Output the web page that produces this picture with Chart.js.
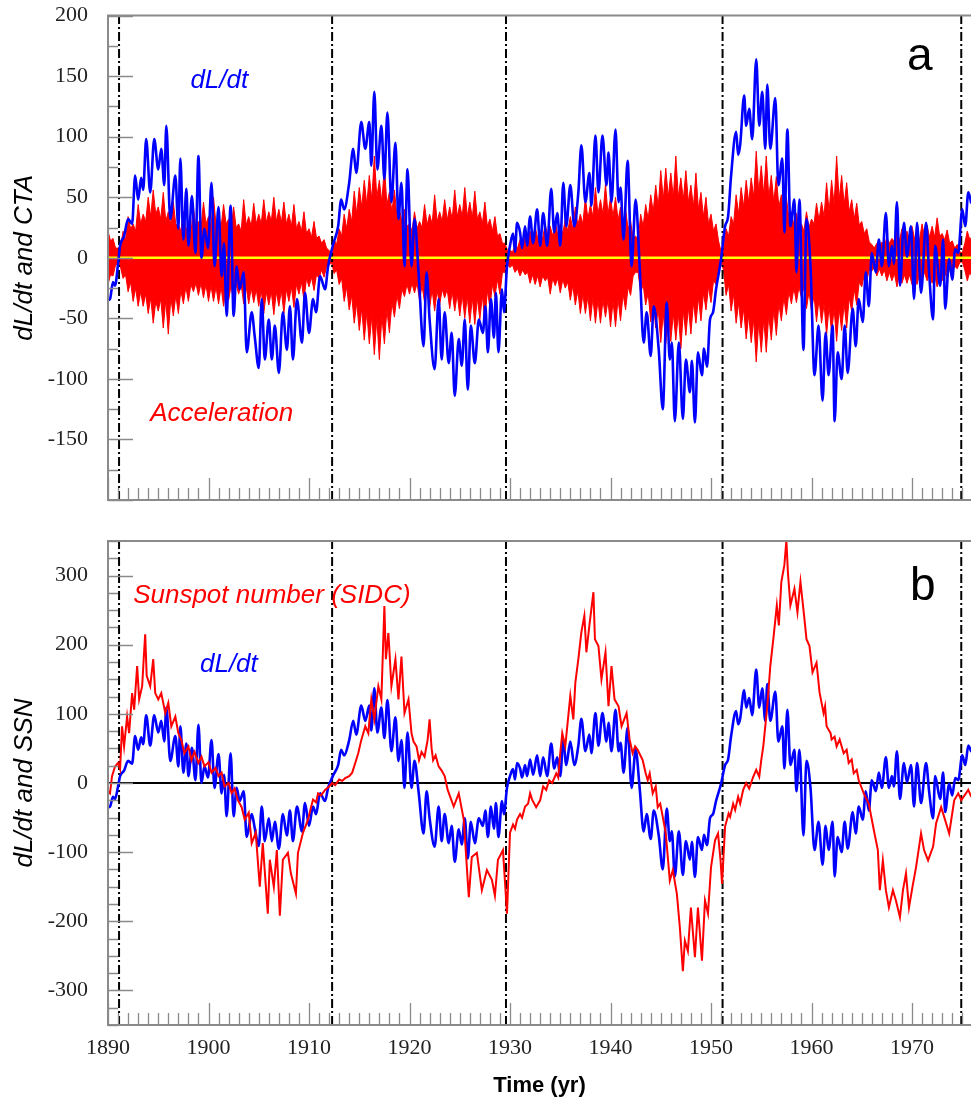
<!DOCTYPE html>
<html>
<head>
<meta charset="utf-8">
<title>dL/dt, CTA and SSN</title>
<script src="https://cdn.jsdelivr.net/npm/chart.js@4.4.1/dist/chart.umd.min.js"></script>
<style>
  html, body { margin: 0; padding: 0; background: #fff; }
  body { width: 971px; height: 1106px; overflow: hidden; position: relative; }
  .panel { position: absolute; left: 0; }
  #wrapA { top: 0; }
  #wrapB { top: 520px; }
</style>
</head>
<body>
<div class="panel" id="wrapA"><canvas id="chartA" width="971" height="520"></canvas></div>
<div class="panel" id="wrapB"><canvas id="chartB" width="971" height="586"></canvas></div>
<script>
// ---- data ----
const xMin = 1890, xMax = 1975.87;
const xTickYears = [1890, 1900, 1910, 1920, 1930, 1940, 1950, 1960, 1970];
const yTicksA = [-150, -100, -50, 0, 50, 100, 150, 200];
const yTicksB = [-300, -200, -100, 0, 100, 200, 300];

// dash-dot vertical markers (years)
const markerYears = [1891.1, 1912.3, 1929.6, 1951.15, 1974.9];

// dL/dt, [year, value]
const dldtPoints = [
  [1890.0,-35],[1890.2,-34],[1890.5,-20],[1890.7,-23],[1891.0,-5],[1891.2,10],[1891.6,18],[1892.0,32],[1892.4,28],[1892.7,68],
  [1893.0,48],[1893.3,66],[1893.5,56],[1893.8,98],[1894.2,54],[1894.6,98],[1895.0,73],[1895.3,90],[1895.6,60],[1895.8,109],
  [1896.2,32],[1896.7,68],[1897.0,24],[1897.2,82],[1897.5,15],[1897.8,57],[1898.0,10],[1898.35,51],[1898.7,4],[1899.0,84],
  [1899.3,0],[1899.6,24],[1899.95,8],[1900.3,62],[1900.6,-7],[1901.0,42],[1901.3,-15],[1901.55,12],[1901.8,-48],[1902.2,43],
  [1902.5,-48],[1902.8,-7],[1903.1,-26],[1903.5,-12],[1903.8,-78],[1904.3,-45],[1904.6,-65],[1905.0,-91],[1905.3,-34],[1905.6,-84],
  [1906.0,-51],[1906.3,-84],[1906.6,-56],[1907.0,-95],[1907.4,-45],[1907.8,-76],[1908.1,-40],[1908.4,-84],[1908.8,-34],[1909.3,-70],
  [1909.6,-29],[1910.0,-62],[1910.4,-34],[1910.7,-45],[1911.1,-15],[1911.6,-26],[1911.9,-7],[1912.4,11],[1912.9,26],[1913.2,48],
  [1913.5,40],[1914.0,62],[1914.4,90],[1914.7,70],[1915.2,112],[1915.6,90],[1916.0,112],[1916.2,76],[1916.5,137],[1916.8,73],
  [1917.2,109],[1917.5,65],[1917.8,120],[1918.2,46],[1918.6,95],[1918.9,32],[1919.2,62],[1919.5,-7],[1919.8,73],[1920.2,-7],
  [1920.5,32],[1920.9,-12],[1921.4,-73],[1921.7,-12],[1922.0,-51],[1922.5,-92],[1922.9,-34],[1923.2,-84],[1923.5,-45],[1923.9,-87],
  [1924.2,-62],[1924.5,-114],[1924.9,-67],[1925.2,-89],[1925.5,-51],[1925.8,-109],[1926.1,-56],[1926.5,-87],[1926.9,-51],[1927.3,-62],
  [1927.55,-40],[1927.8,-78],[1928.1,-34],[1928.4,-66],[1928.6,-29],[1928.85,-78],[1929.2,-26],[1929.4,-45],[1929.7,-7],[1930.0,10],
  [1930.3,20],[1930.5,5],[1930.7,29],[1931.0,21],[1931.2,8],[1931.5,26],[1931.7,10],[1932.0,34],[1932.3,12],[1932.7,40],
  [1933.0,10],[1933.3,37],[1933.7,10],[1934.1,57],[1934.4,21],[1934.7,37],[1935.0,10],[1935.3,62],[1935.6,26],[1936.0,60],
  [1936.4,26],[1936.8,54],[1937.1,93],[1937.5,46],[1937.9,70],[1938.1,43],[1938.5,101],[1938.8,54],[1939.2,101],[1939.6,60],
  [1939.8,87],[1940.1,46],[1940.5,106],[1940.8,46],[1941.0,58],[1941.3,15],[1941.7,80],[1942.1,-7],[1942.5,48],[1942.9,-7],
  [1943.3,-70],[1943.6,-45],[1944.0,-81],[1944.3,-40],[1944.8,-76],[1945.2,-125],[1945.6,-37],[1945.9,-84],[1946.1,-70],[1946.4,-135],
  [1946.8,-70],[1947.2,-133],[1947.5,-84],[1947.9,-111],[1948.1,-85],[1948.4,-136],[1948.7,-78],[1949.1,-97],[1949.3,-75],[1949.6,-90],
  [1949.9,-51],[1950.2,-45],[1950.5,-26],[1951.0,-1],[1951.4,26],[1951.7,34],[1952.0,68],[1952.5,104],[1952.7,85],[1952.9,93],
  [1953.3,134],[1953.5,109],[1953.8,123],[1954.1,98],[1954.5,164],[1954.8,109],[1955.1,137],[1955.4,90],[1955.6,143],[1955.9,90],
  [1956.4,132],[1956.7,60],[1957.1,82],[1957.3,21],[1957.6,106],[1957.9,26],[1958.3,48],[1958.5,-12],[1958.8,48],[1959.2,-76],
  [1959.5,32],[1959.9,-7],[1960.3,-97],[1960.7,-56],[1961.1,-118],[1961.4,-62],[1961.7,-97],[1962.1,-56],[1962.3,-135],[1962.6,-78],
  [1963.0,-100],[1963.3,-56],[1963.6,-95],[1964.1,-42],[1964.4,-73],[1964.7,-34],[1965.1,-53],[1965.4,-12],[1965.7,-40],[1966.0,4],
  [1966.4,-12],[1966.7,15],[1967.0,-7],[1967.4,37],[1967.7,-7],[1968.0,10],[1968.2,-5],[1968.5,46],[1968.8,-23],[1969.2,29],
  [1969.5,1],[1969.9,26],[1970.2,-34],[1970.5,29],[1970.9,-29],[1971.4,29],[1971.7,-12],[1972.1,-51],[1972.3,10],[1972.8,-23],
  [1973.1,15],[1973.3,-42],[1973.7,-1],[1974.0,-18],[1974.3,7],[1974.6,4],[1975.0,40],[1975.3,26],[1975.6,54],[1975.9,45]
];

// acceleration (CTA): upper and lower edge of the red band, every quarter year from 1890.0
const accStartYear = 1890, accStep = 0.25;
const accUpper = [
  22,14, 16,8, 8,9, 22,15, 34,24, 28,22, 44,28, 36,30, 50,34, 56,36,
  42,32, 54,30, 38,28, 46,27, 28,22, 38,24, 26,20, 42,24, 30,24, 46,28,
  34,26, 50,27, 36,25, 44,28, 32,24, 42,25, 28,22, 48,27, 34,26, 45,28,
  36,28, 48,29, 38,30, 50,30, 40,29, 46,28, 36,26, 44,24, 30,22, 38,20,
  24,17, 30,16, 18,12, 15,8, 6,4, 15,11, 24,18, 36,24, 40,30, 55,36,
  58,42, 64,44, 68,48, 84,50, 64,46, 76,44, 54,38, 56,34, 40,30, 40,26,
  28,22, 38,24, 30,25, 44,27, 36,28, 52,30, 38,30, 48,31, 42,32, 56,34,
  44,34, 58,34, 46,33, 55,32, 38,28, 46,26, 32,22, 34,18, 20,12, 12,6,
  6,5, 10,8, 15,10, 17,12, 22,14, 26,16, 19,16, 28,18, 26,18, 30,19,
  28,20, 32,22, 34,24, 42,27, 36,28, 50,32, 44,34, 58,36, 48,36, 61,36,
  50,34, 50,31, 42,28, 40,24, 30,16, 18,14, 36,26, 44,32, 52,38, 60,42,
  72,48, 74,50, 70,50, 84,50, 66,48, 72,46, 60,42, 70,40, 54,34, 50,28,
  36,22, 28,14, 5,8, 24,18, 34,28, 52,36, 58,42, 64,46, 66,50, 88,54,
  76,52, 84,50, 68,46, 67,42, 52,36, 50,32, 38,27, 37,24, 28,22, 38,25,
  32,28, 45,31, 46,34, 62,38, 64,44, 84,48, 68,44, 62,38, 48,32, 45,27,
  30,20, 24,13, 11,8, 12,9, 13,10, 17,12, 16,13, 24,14, 24,15, 22,14,
  26,16, 20,15, 28,17, 27,17, 26,17, 33,18, 20,15, 23,12, 14,8, 11,5,
  4,12, 22,15, 18
];
const accLower = [
  -22,-14, -15,-6, -5,-8, -17,-14, -28,-20, -36,-25, -40,-28, -40,-30, -46,-33, -54,-36,
  -44,-34, -58,-35, -63,-33, -48,-31, -46,-27, -38,-24, -36,-22, -28,-21, -31,-21, -33,-22,
  -36,-23, -36,-24, -38,-24, -40,-24, -35,-23, -37,-22, -30,-22, -38,-24, -38,-25, -37,-26,
  -40,-27, -46,-28, -39,-28, -47,-28, -40,-27, -46,-26, -36,-24, -41,-22, -30,-20, -35,-17,
  -24,-16, -27,-14, -17,-10, -16,-7, -6,-4, -13,-10, -22,-17, -36,-24, -43,-31, -54,-37,
  -60,-42, -68,-45, -71,-48, -80,-50, -84,-48, -71,-43, -62,-37, -49,-31, -42,-26, -32,-22,
  -30,-21, -29,-21, -35,-23, -37,-25, -42,-26, -44,-27, -39,-26, -33,-26, -42,-28, -44,-30,
  -48,-31, -50,-32, -54,-33, -55,-33, -51,-31, -53,-27, -41,-22, -32,-18, -30,-12, -12,-6,
  -8,-6, -12,-9, -15,-10, -14,-12, -21,-14, -22,-15, -24,-15, -19,-16, -30,-17, -23,-17,
  -29,-18, -25,-20, -35,-23, -39,-27, -46,-30, -46,-32, -52,-33, -54,-35, -54,-35, -49,-35,
  -57,-36, -57,-34, -52,-30, -43,-24, -31,-15, -12,-12, -29,-22, -39,-29, -53,-36, -58,-42,
  -70,-46, -71,-47, -69,-46, -68,-46, -75,-44, -64,-41, -63,-37, -54,-33, -52,-29, -43,-24,
  -37,-19, -22,-11, -4,-10, -31,-22, -44,-30, -54,-37, -58,-42, -67,-47, -70,-51, -86,-53,
  -78,-51, -78,-47, -68,-43, -64,-38, -52,-33, -47,-28, -38,-25, -37,-24, -33,-24, -42,-28,
  -44,-31, -53,-34, -54,-38, -64,-40, -62,-42, -69,-42, -60,-38, -58,-33, -44,-26, -39,-20,
  -24,-14, -19,-10, -11,-8, -15,-9, -15,-10, -19,-12, -19,-13, -24,-14, -21,-14, -21,-14,
  -22,-14, -22,-13, -18,-12, -19,-13, -21,-14, -24,-13, -19,-12, -17,-9, -11,-7, -9,-4,
  -3,-10, -19,-12, -16
];

// signed sunspot number (SIDC), [year, value]
const ssnPoints = [
  [1890.0,-12],[1890.2,-15],[1890.4,10],[1890.7,24],[1891.0,29],[1891.2,20],[1891.4,82],[1891.6,53],[1891.9,96],[1892.1,72],
  [1892.4,130],[1892.6,106],[1892.9,169],[1893.1,121],[1893.4,140],[1893.55,179],[1893.7,215],[1893.85,155],[1894.2,140],[1894.5,179],
  [1894.7,130],[1895.0,121],[1895.3,130],[1895.7,101],[1896.0,116],[1896.3,82],[1896.7,96],[1897.0,72],[1897.3,62],[1897.6,43],
  [1898.0,53],[1898.3,33],[1898.6,45],[1899.0,29],[1899.3,38],[1899.6,24],[1900.0,30],[1900.3,15],[1900.7,22],[1901.0,10],
  [1901.3,15],[1901.6,-5],[1902.0,0],[1902.3,-15],[1902.6,-8],[1902.9,-24],[1903.3,-35],[1903.6,-53],[1904.0,-43],[1904.3,-87],
  [1904.7,-72],[1905.1,-150],[1905.4,-87],[1905.9,-189],[1906.1,-111],[1906.5,-150],[1906.8,-97],[1907.1,-192],[1907.4,-111],[1907.9,-101],
  [1908.2,-131],[1908.7,-160],[1908.9,-101],[1909.4,-72],[1909.9,-53],[1910.2,-35],[1910.4,-24],[1910.7,-28],[1910.9,-15],[1911.2,-18],
  [1911.6,-10],[1912.0,-5],[1912.3,0],[1912.6,-3],[1913.0,5],[1913.3,3],[1913.6,7],[1914.0,10],[1914.3,15],[1914.6,29],
  [1914.9,43],[1915.2,62],[1915.6,82],[1915.9,72],[1916.2,121],[1916.5,92],[1916.9,140],[1917.2,121],[1917.5,256],[1917.65,179],
  [1917.9,217],[1918.2,140],[1918.6,179],[1918.9,121],[1919.2,183],[1919.5,101],[1919.9,121],[1920.2,72],[1920.4,60],[1920.7,53],
  [1920.95,33],[1921.2,45],[1921.5,38],[1921.8,62],[1922.0,92],[1922.2,50],[1922.35,33],[1922.6,40],[1922.9,24],[1923.2,18],
  [1923.5,10],[1923.8,-10],[1924.4,-34],[1924.9,-15],[1925.4,-53],[1925.9,-165],[1926.2,-107],[1926.7,-101],[1927.2,-155],[1927.7,-126],
  [1928.2,-140],[1928.5,-163],[1928.8,-111],[1929.3,-97],[1929.7,-189],[1930.0,-72],[1930.3,-60],[1930.5,-66],[1930.7,-53],[1931.0,-45],
  [1931.2,-50],[1931.5,-34],[1931.8,-30],[1932.0,-15],[1932.2,-24],[1932.6,-35],[1933.0,-25],[1933.3,-5],[1933.6,-10],[1933.9,4],
  [1934.2,0],[1934.6,14],[1934.8,8],[1935.0,43],[1935.2,72],[1935.5,53],[1936.0,126],[1936.3,92],[1936.5,145],[1936.8,179],
  [1937.1,218],[1937.4,242],[1937.6,189],[1937.9,228],[1938.3,276],[1938.45,208],[1938.8,198],[1939.1,150],[1939.5,189],[1939.8,111],
  [1940.1,169],[1940.4,121],[1940.8,111],[1941.1,82],[1941.6,101],[1941.9,63],[1942.2,43],[1942.45,53],[1942.7,48],[1943.0,39],
  [1943.2,33],[1943.5,14],[1943.7,4],[1943.9,14],[1944.2,-15],[1944.5,-5],[1944.7,-35],[1944.95,-30],[1945.2,-49],[1945.5,-73],
  [1945.9,-141],[1946.2,-126],[1946.6,-160],[1946.9,-209],[1947.2,-272],[1947.4,-228],[1947.7,-243],[1948.0,-180],[1948.4,-252],[1948.7,-180],
  [1949.1,-257],[1949.4,-170],[1949.7,-189],[1950.0,-122],[1950.4,-83],[1950.7,-73],[1950.95,-112],[1951.1,-146],[1951.4,-63],[1951.75,-44],
  [1951.9,-49],[1952.2,-30],[1952.4,-39],[1952.7,-20],[1952.9,-30],[1953.2,-10],[1953.5,0],[1953.8,-8],[1954.2,9],[1954.5,19],
  [1954.8,9],[1955.0,33],[1955.2,53],[1955.4,82],[1955.6,111],[1955.9,169],[1956.2,208],[1956.55,257],[1956.75,228],[1957.0,291],
  [1957.3,315],[1957.5,351],[1957.65,305],[1957.9,257],[1958.3,281],[1958.6,247],[1958.9,291],[1959.3,237],[1959.5,208],[1959.8,198],
  [1960.1,160],[1960.5,174],[1960.8,131],[1961.2,101],[1961.35,111],[1961.5,82],[1961.9,72],[1962.0,63],[1962.3,67],[1962.5,53],
  [1962.8,63],[1963.2,43],[1963.5,48],[1963.7,29],[1964.0,34],[1964.2,14],[1964.5,19],[1964.7,4],[1965.2,-15],[1965.7,-30],
  [1966.2,-68],[1966.6,-97],[1966.8,-155],[1967.1,-112],[1967.4,-155],[1967.7,-180],[1968.1,-155],[1968.4,-170],[1968.8,-194],[1969.1,-155],
  [1969.4,-131],[1969.7,-180],[1970.1,-146],[1970.4,-122],[1970.9,-73],[1971.2,-97],[1971.6,-112],[1972.1,-92],[1972.4,-58],[1972.9,-35],
  [1973.2,-49],[1973.7,-73],[1974.2,-25],[1974.6,-15],[1974.9,-25],[1975.6,-10],[1975.9,-20]
];

// ---- helpers ----
const toXY = pts => pts.map(p => ({ x: p[0], y: p[1] }));
const accXY = vals => vals.map((v, i) => ({ x: accStartYear + i * accStep, y: v }));
const SANS = '"Liberation Sans", Arial, sans-serif';
const SERIF = '"Liberation Serif", "Times New Roman", serif';

Chart.defaults.font.family = SANS;
Chart.defaults.color = '#222';

function markerSets(lo, hi, order) {
  return markerYears.map(t => ({
    data: [{ x: t, y: lo }, { x: t, y: hi }],
    borderColor: '#000',
    borderWidth: 2,
    borderDash: [9, 3, 2, 3],
    order: order
  }));
}

// inward tick marks and the grey frame (the right edge runs off the page)
const frameTicks = {
  id: 'frameTicks',
  afterDatasetsDraw(chart, args, opts) {
    const { ctx, chartArea: a } = chart;
    const x = chart.scales.x, y = chart.scales.y;
    ctx.save();
    ctx.strokeStyle = '#8a8a8a';
    ctx.lineWidth = 1.3;
    ctx.beginPath();
    for (let v = y.min; v <= y.max + 1e-6; v += opts.yMinor) {
      const py = Math.round(y.getPixelForValue(v)) + 0.5;
      const len = Math.abs(v % opts.yMajor) < 1e-6 ? 25 : 10;
      ctx.moveTo(a.left, py);
      ctx.lineTo(a.left + len, py);
    }
    for (let t = Math.ceil(x.min); t <= x.max; t++) {
      const px = Math.round(x.getPixelForValue(t)) + 0.5;
      const len = t % 10 === 0 ? 22 : 12;
      ctx.moveTo(px, a.bottom);
      ctx.lineTo(px, a.bottom - len);
    }
    ctx.stroke();
    ctx.lineWidth = 2;
    ctx.beginPath();
    ctx.moveTo(a.right + 5, a.top);
    ctx.lineTo(a.left, a.top);
    ctx.lineTo(a.left, a.bottom);
    ctx.lineTo(a.right + 5, a.bottom);
    ctx.stroke();
    ctx.restore();
  }
};

// in-plot labels, placed in data coordinates
const panelText = {
  id: 'panelText',
  afterDraw(chart, args, opts) {
    const { ctx } = chart;
    const x = chart.scales.x, y = chart.scales.y;
    ctx.save();
    ctx.textAlign = 'left';
    ctx.textBaseline = 'alphabetic';
    opts.items.forEach(it => {
      ctx.font = it.font;
      ctx.fillStyle = it.color;
      ctx.fillText(it.text, x.getPixelForValue(it.at[0]), y.getPixelForValue(it.at[1]));
    });
    ctx.restore();
  }
};

function yAxis(min, max, ticks, title) {
  return {
    type: 'linear',
    min: min,
    max: max,
    afterBuildTicks: axis => { axis.ticks = ticks.map(v => ({ value: v })); },
    afterFit: axis => {
      axis.width = 108;
      // labels may overhang the plot box, don't let them push it
      axis.paddingTop = 0;
      axis.paddingBottom = 0;
    },
    ticks: {
      font: { family: SERIF, size: 22 },
      color: '#222',
      padding: 20,
      callback: v => String(v)
    },
    grid: { drawOnChartArea: false, drawTicks: false },
    border: { display: false },
    title: {
      display: true,
      text: title,
      color: '#000',
      font: { family: SANS, size: 26, style: 'italic' },
      padding: { top: 9, bottom: 0 }
    }
  };
}

const common = {
  responsive: false,
  animation: false,
  events: [],
  elements: { point: { radius: 0 }, line: { tension: 0 } },
  plugins: { legend: { display: false }, tooltip: { enabled: false } }
};

const dldtStyle = { borderColor: '#0000ff', borderWidth: 2.6, cubicInterpolationMode: 'monotone' };

// ---- panel a ----
new Chart(document.getElementById('chartA').getContext('2d'), {
  type: 'line',
  data: {
    datasets: [
      { data: toXY(dldtPoints), ...dldtStyle, order: 0 },
      { data: [{ x: xMin, y: 0 }, { x: xMax, y: 0 }], borderColor: '#ffff00', borderWidth: 2.5, order: 1 },
      ...markerSets(-200, 200, 2),
      { data: accXY(accUpper), borderColor: '#ff0000', borderWidth: 1, backgroundColor: '#ff0000', fill: 'origin', order: 3 },
      { data: accXY(accLower), borderColor: '#ff0000', borderWidth: 1, backgroundColor: '#ff0000', fill: 'origin', order: 4 }
    ]
  },
  options: {
    ...common,
    layout: { padding: { top: 15.6, right: 0, bottom: 20, left: 0 } },
    scales: {
      x: { type: 'linear', min: xMin, max: xMax, display: false },
      y: yAxis(-200, 200, yTicksA, 'dL/dt and CTA')
    },
    plugins: {
      ...common.plugins,
      frameTicks: { yMinor: 25, yMajor: 50 },
      panelText: {
        items: [
          { text: 'dL/dt', at: [1898.2, 140], color: '#0000ff', font: 'italic 26px ' + SANS },
          { text: 'Acceleration', at: [1894.2, -135], color: '#ff0000', font: 'italic 26px ' + SANS },
          { text: 'a', at: [1969.5, 155], color: '#000', font: '46px ' + SANS }
        ]
      }
    }
  },
  plugins: [frameTicks, panelText]
});

// ---- panel b ----
new Chart(document.getElementById('chartB').getContext('2d'), {
  type: 'line',
  data: {
    datasets: [
      { data: toXY(ssnPoints), borderColor: '#ff0000', borderWidth: 2, order: 0 },
      { data: toXY(dldtPoints), ...dldtStyle, order: 1 },
      { data: [{ x: xMin, y: 0 }, { x: xMax, y: 0 }], borderColor: '#000', borderWidth: 2, order: 2 },
      ...markerSets(-350, 350, 3)
    ]
  },
  options: {
    ...common,
    layout: { padding: { top: 21, right: 0, bottom: 0, left: 0 } },
    scales: {
      x: {
        type: 'linear',
        min: xMin,
        max: xMax,
        afterBuildTicks: axis => { axis.ticks = xTickYears.map(v => ({ value: v })); },
        afterFit: axis => {
          axis.height = 81;
          axis.paddingLeft = 0;
          axis.paddingRight = 0;
        },
        ticks: {
          font: { family: SERIF, size: 22 },
          color: '#222',
          padding: 10,
          maxRotation: 0,
          autoSkip: false,
          callback: v => String(v)
        },
        grid: { drawOnChartArea: false, drawTicks: false },
        border: { display: false },
        title: {
          display: true,
          text: 'Time (yr)',
          color: '#000',
          font: { family: SANS, size: 22, weight: 'bold' },
          padding: { top: 0, bottom: 7 }
        }
      },
      y: yAxis(-350, 350, yTicksB, 'dL/dt and SSN')
    },
    plugins: {
      ...common.plugins,
      frameTicks: { yMinor: 25, yMajor: 100 },
      panelText: {
        items: [
          { text: 'Sunspot number (SIDC)', at: [1892.5, 261], color: '#ff0000', font: 'italic 26px ' + SANS },
          { text: 'dL/dt', at: [1899.15, 160], color: '#0000ff', font: 'italic 26px ' + SANS },
          { text: 'b', at: [1969.8, 265], color: '#000', font: '46px ' + SANS }
        ]
      }
    }
  },
  plugins: [frameTicks, panelText]
});
</script>
</body>
</html>
